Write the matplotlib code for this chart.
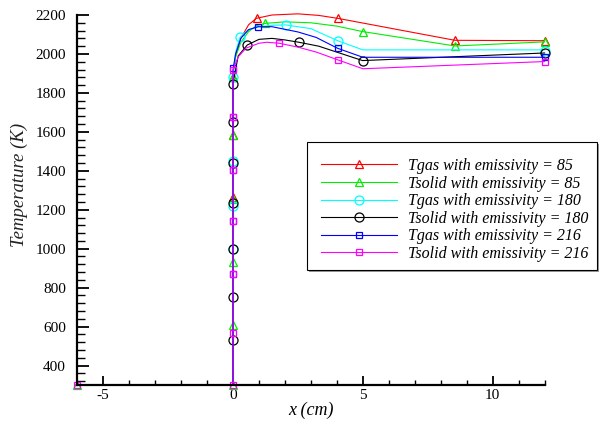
import matplotlib.pyplot as plt
from matplotlib.patches import Rectangle
from matplotlib.lines import Line2D
from matplotlib.ticker import MultipleLocator

# curves (x in cm, temperature in K)
red_x = [-6, 0, 0, 0.1, 0.3, 0.6, 0.9, 1.5, 2.5, 3.3, 4.03, 8.55, 12]
red_t = [300, 300, 1900, 1990, 2080, 2150, 2183, 2200, 2206, 2198, 2183, 2070, 2068]
green_x = [-6, 0, 0, 0.1, 0.3, 0.6, 0.9, 1.23, 2, 3, 4, 4.99, 8.55, 12]
green_t = [300, 300, 1890, 1985, 2060, 2115, 2145, 2157, 2165, 2160, 2143, 2115, 2041, 2062]
cyan_x = [-6, 0, 0, 0.1, 0.27, 0.6, 1, 1.5, 2.03, 3, 4.03, 5, 12]
cyan_t = [300, 300, 1900, 2010, 2086, 2125, 2140, 2147, 2149, 2130, 2068, 2021, 2021]
black_x = [-6, 0, 0, 0.2, 0.55, 1, 1.5, 2, 2.54, 3.3, 4.12, 4.99, 12]
black_t = [300, 300, 1850, 1990, 2046, 2075, 2080, 2072, 2060, 2040, 2004, 1966, 2005]
blue_x = [-6, 0, 0, 0.1, 0.3, 0.6, 0.97, 1.5, 2.5, 3.2, 4.03, 5, 12]
blue_t = [300, 300, 1918, 2000, 2080, 2125, 2140, 2140, 2113, 2085, 2029, 1983, 1983]
mag_x = [-6, 0, 0, 0.2, 0.5, 1, 1.3, 1.78, 2.5, 3.2, 4.03, 5, 12]
mag_t = [300, 300, 1918, 1985, 2030, 2055, 2060, 2055, 2035, 2010, 1970, 1924, 1961]

# symbols
red_mx = [0, 0, 0, 0.91, 4.03, 8.55, 12]
red_mt = [1263, 1586, 1883, 2183, 2183, 2072, 2068]
green_mx = [-6, 0, 0, 0, 0, 0, 0, 1.23, 4.99, 8.55, 12]
green_mt = [300, 300, 608, 932, 1255, 1586, 1883, 2157, 2115, 2041, 2062]
cyan_mx = [0, 0, 0, 0, 0.27, 2.03, 4.03, 12]
cyan_mt = [1000, 1218, 1450, 1883, 2086, 2149, 2068, 2015]
black_mx = [0, 0, 0, 0, 0, 0, 0, 0.55, 2.54, 4.99, 12]
black_mt = [531, 753, 1000, 1235, 1442, 1649, 1848, 2046, 2060, 1966, 2007]
blue_mx = [0, 0, 0, 0, 0, 0.97, 4.03, 12]
blue_mt = [869, 1142, 1403, 1676, 1929, 2140, 2029, 1985]
mag_mx = [-6, 0, 0, 0, 0, 0, 0, 0, 1.78, 4.03, 12]
mag_mt = [300, 300, 565, 869, 1142, 1403, 1676, 1918, 2055, 1970, 1958]

labels = ['Tgas with emissivity = 85', 'Tsolid with emissivity = 85',
          'Tgas with emissivity = 180', 'Tsolid with emissivity = 180',
          'Tgas with emissivity = 216', 'Tsolid with emissivity = 216']

series = [
    (red_x, red_t, red_mx, red_mt, '#ff0000', '^', 6),
    (green_x, green_t, green_mx, green_mt, '#00ee00', '^', 6),
    (cyan_x, cyan_t, cyan_mx, cyan_mt, '#00ffff', 'o', 6.5),
    (black_x, black_t, black_mx, black_mt, '#000000', 'o', 6.5),
    (blue_x, blue_t, blue_mx, blue_mt, '#0000ff', 's', 5),
    (mag_x, mag_t, mag_mx, mag_mt, '#ff00ff', 's', 5),
]

plt.rcParams['font.family'] = 'Liberation Serif'
plt.rcParams['axes.unicode_minus'] = False
fig = plt.figure(figsize=(6.11, 4.24), dpi=100)
ax = fig.add_axes([0.1264, 0.092, 0.7649, 0.8726])

handles = []
for x, t, mx, mt, c, m, ms in series:
    ax.plot(x, t, color=c, lw=0.8, clip_on=False)
    ax.plot(mx, mt, ls='none', marker=m, ms=ms, mfc='none', mec=c, mew=0.9, clip_on=False)
    handles.append(Line2D([], [], color=c, lw=0.8, marker=m, ms=ms, mfc='none', mec=c, mew=0.9))

ax.set_xlim(-6, 12)
ax.set_ylim(300, 2200)
ax.xaxis.set_major_locator(MultipleLocator(5))
ax.xaxis.set_minor_locator(MultipleLocator(1))
ax.set_yticks(range(400, 2201, 200))
ax.yaxis.set_minor_locator(MultipleLocator(40))
ax.spines['top'].set_visible(False)
ax.spines['right'].set_visible(False)
ax.spines['left'].set_linewidth(1.6)
ax.spines['bottom'].set_linewidth(1.6)
ax.tick_params(axis='x', which='major', direction='in', length=6.5, width=1.3, pad=3, labelsize=11)
ax.tick_params(axis='x', which='minor', direction='in', length=3.5, width=1.0)
ax.tick_params(axis='y', which='major', direction='in', length=8.5, width=1.3, pad=8, labelsize=11)
ax.tick_params(axis='y', which='minor', direction='in', length=5.5, width=1.0)

ax.set_xlabel('x (cm)', style='italic', fontsize=13, labelpad=0)
ax.set_ylabel('Temperature (K)', style='italic', fontsize=13.5, color='#222222')
ax.yaxis.set_label_coords(-0.105, 0.54)

# legend box with shadow
fig.patches.append(Rectangle((0.5058, 0.3585), 0.4746, 0.3019, transform=fig.transFigure,
                             facecolor='#999999', edgecolor='none', zorder=5))
fig.patches.append(Rectangle((0.5025, 0.3632), 0.4746, 0.3019, transform=fig.transFigure,
                             facecolor='white', edgecolor='black', lw=0.8, zorder=6))
leg = fig.legend(handles, labels, loc='center left', bbox_to_anchor=(0.5249, 0.5047),
                 frameon=False, numpoints=1, handlelength=4.75, handletextpad=0.74,
                 borderpad=0, borderaxespad=0, labelspacing=0.1,
                 prop={'family': 'Liberation Serif', 'style': 'italic', 'size': 11.5})
leg.set_zorder(7)

fig.savefig('out.png', dpi=100)
